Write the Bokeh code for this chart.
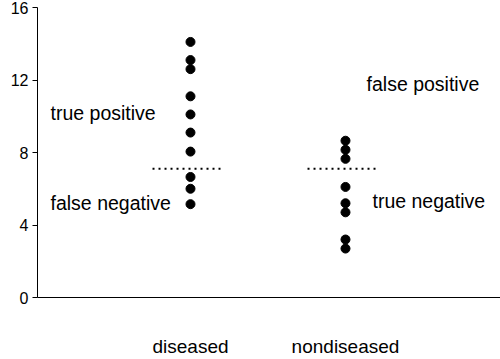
from bokeh.plotting import figure
from bokeh.models import ColumnDataSource, Label, FixedTicker, Range1d
from bokeh.embed import file_html
from bokeh.resources import INLINE

categories = ["diseased", "nondiseased"]
diseased_values = [14.1, 13.1, 12.6, 11.1, 10.1, 9.1, 8.05, 6.65, 6.0, 5.15]
nondiseased_values = [8.65, 8.15, 7.65, 6.1, 5.2, 4.7, 3.2, 2.7]
threshold = 7.1
y_ticks = [0, 4, 8, 12, 16]
region_labels = ["true positive", "false negative", "false positive", "true negative"]

FONT = "Liberation Sans"

p = figure(width=500, height=359, output_backend="svg", toolbar_location=None,
           x_range=Range1d(0.013, 3.0), y_range=Range1d(0, 16),
           min_border_left=37, min_border_top=7, min_border_right=0, min_border_bottom=61)
p.outline_line_color = None
p.grid.visible = False
p.background_fill_color = "white"
p.border_fill_color = "white"

# y axis
p.yaxis.ticker = FixedTicker(ticks=y_ticks)
p.yaxis.minor_tick_line_color = None
p.yaxis.major_tick_out = 5
p.yaxis.major_tick_in = 0
p.yaxis.major_label_standoff = 4
p.yaxis.major_label_text_font = FONT
p.yaxis.major_label_text_font_size = "16px"
p.yaxis.major_label_text_color = "black"
p.yaxis.axis_line_color = "black"
p.yaxis.major_tick_line_color = "black"

# x axis: category labels far below the line, no ticks
p.xaxis.ticker = FixedTicker(ticks=[1, 2])
p.xaxis.major_label_overrides = {i + 1: c for i, c in enumerate(categories)}
p.xaxis.minor_tick_line_color = None
p.xaxis.major_tick_line_color = None
p.xaxis.major_tick_out = 0
p.xaxis.major_tick_in = 0
p.xaxis.major_label_standoff = 38
p.xaxis.major_label_text_font = FONT
p.xaxis.major_label_text_font_size = "19px"
p.xaxis.major_label_text_color = "black"
p.xaxis.axis_line_color = "black"

xs = [1] * len(diseased_values) + [2] * len(nondiseased_values)
ys = diseased_values + nondiseased_values
src = ColumnDataSource(dict(x=xs, y=ys))
p.scatter("x", "y", source=src, size=9, color="black")

# threshold dotted lines
for i in range(len(categories)):
    cx = i + 1
    p.line([cx - 0.245, cx + 0.20], [threshold, threshold], line_color="black",
           line_width=2, line_dash="2 4")

# region text
label_pos = [(0.097, 10.2), (0.097, 5.2), (2.136, 11.8), (2.174, 5.3)]
for txt, (x, y) in zip(region_labels, label_pos):
    p.add_layout(Label(x=x, y=y, text=txt, text_font=FONT, text_font_size="19.5px",
                       text_baseline="middle", text_align="left", text_color="black"))

open("out.html", "w").write(file_html(p, INLINE))
